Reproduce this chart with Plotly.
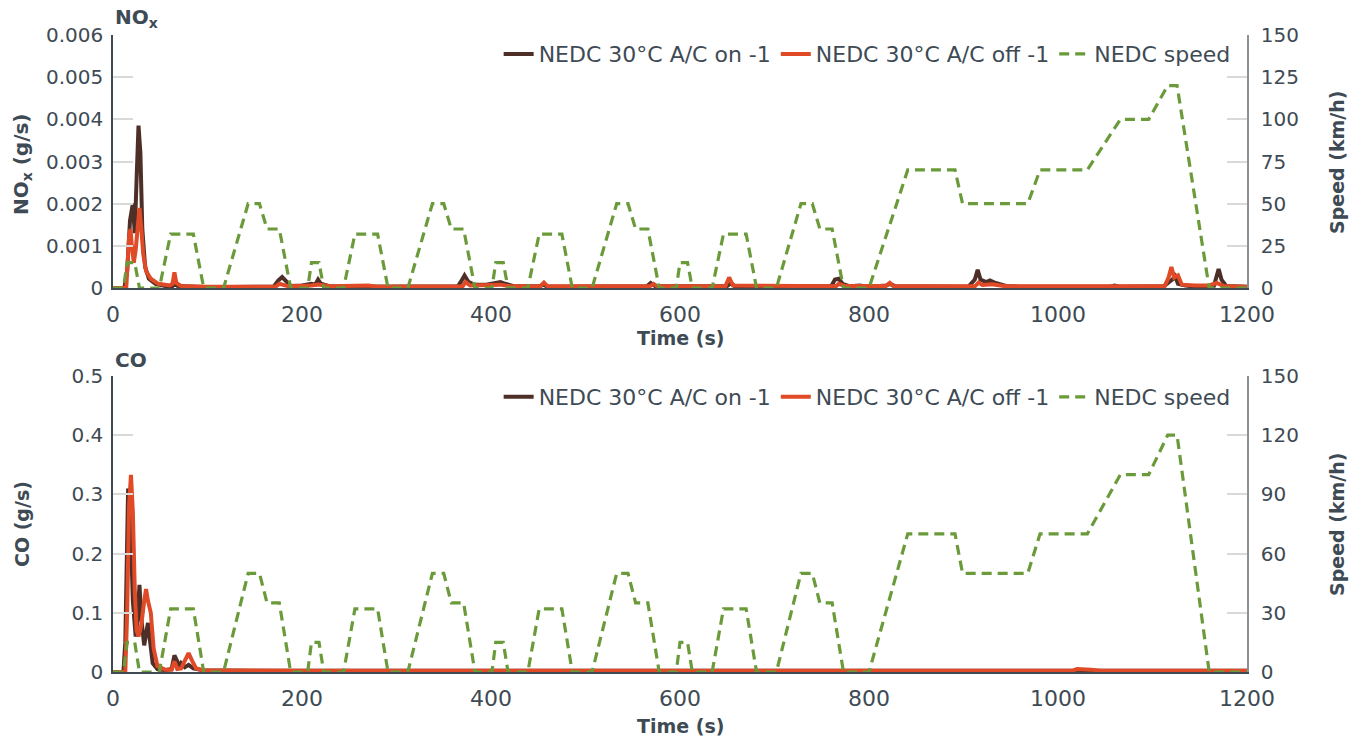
import plotly.graph_objects as go

# ---- NEDC speed trace (breakpoints, s / km/h) ----
speed_t = [0, 11, 15, 23, 28, 49, 61, 85, 96, 117, 143, 155, 163, 176, 188,
           195, 206, 210, 218, 223, 244, 256, 280, 291, 312, 338, 350, 358, 371, 383,
           390, 401, 405, 413, 418, 439, 451, 475, 486, 507, 533, 545, 553, 566, 578,
           585, 596, 600, 608, 613, 634, 646, 670, 681, 702, 728, 740, 748, 761, 773,
           780, 800, 841, 891, 899, 968, 981, 1031, 1066, 1096, 1116, 1126, 1160, 1200]
speed_v = [0, 0, 15, 15, 0, 0, 32, 32, 0, 0, 50, 50, 35, 35, 0,
           0, 0, 15, 15, 0, 0, 32, 32, 0, 0, 50, 50, 35, 35, 0,
           0, 0, 15, 15, 0, 0, 32, 32, 0, 0, 50, 50, 35, 35, 0,
           0, 0, 15, 15, 0, 0, 32, 32, 0, 0, 50, 50, 35, 35, 0,
           0, 0, 70, 70, 50, 50, 70, 70, 100, 100, 120, 120, 0, 0]

# ---- NOx (g/s) ----
nox_on_t = [0, 12, 15, 18, 21, 23, 25, 27, 29, 31, 34, 38, 45, 55, 63, 65, 68, 100,
            170, 175, 179, 183, 188, 200, 210, 214, 217, 220, 228, 240, 365, 369, 372,
            376, 382, 395, 405, 410, 415, 425, 452, 455, 460, 565, 569, 574, 650, 654,
            658, 760, 764, 768, 772, 780, 790, 800, 818, 822, 828, 905, 912, 915, 918,
            924, 928, 934, 945, 960, 1055, 1060, 1065, 1112, 1118, 1121, 1124, 1127,
            1135, 1145, 1165, 1168, 1170, 1173, 1178, 1200]
nox_on_v = [0, 0, 0.0004, 0.0016, 0.002, 0.0013, 0.0026, 0.00385, 0.0032, 0.0014,
            0.0005, 0.00022, 0.0001, 0.00005, 0.00005, 0.00012, 0.00005, 0.00002,
            0.00003, 0.00018, 0.00026, 0.00018, 0.00005, 0.00006, 0.0001, 0.00008,
            0.0002, 0.0001, 0.00005, 0.00003, 0.00004, 0.00018, 0.0003, 0.00015,
            0.00008, 0.00008, 0.00012, 0.00014, 0.0001, 0.00004, 0.00004, 0.00008,
            0.00003, 0.00004, 0.00012, 0.00004, 0.00005, 0.00012, 0.00004, 0.00004,
            0.0002, 0.00022, 0.0001, 0.00004, 0.00006, 0.00003, 0.00006, 0.0001,
            0.00004, 0.00003, 0.0002, 0.00043, 0.0002, 0.00014, 0.00018, 0.00012,
            0.00005, 0.00003, 0.00003, 0.00006, 0.00003, 0.00004, 0.00015, 0.0002,
            0.00028, 0.0001, 0.00006, 0.00003, 0.00005, 0.0003, 0.00045, 0.0002,
            0.00005, 0.00003]

nox_off_t = [0, 14, 17, 18.5, 20, 22, 24, 26, 28, 30, 32, 35, 40, 48, 60, 63, 65, 67,
             72, 100, 172, 176, 180, 186, 210, 217, 230, 270, 280, 370, 373, 378, 410,
             420, 452, 456, 460, 568, 572, 576, 648, 652, 656, 765, 768, 774, 818, 822,
             826, 912, 916, 920, 930, 945, 1113, 1117, 1120, 1123, 1127, 1131, 1145,
             1160, 1168, 1175, 1200]
nox_off_v = [0, 0, 0.0012, 0.0014, 0.001, 0.0006, 0.0009, 0.0015, 0.0019, 0.0014,
             0.0008, 0.0004, 0.00022, 0.0001, 0.00006, 0.0001, 0.00037, 0.00012,
             0.00005, 0.00003, 0.00003, 0.0001, 0.00008, 0.00004, 0.00006, 0.00008,
             0.00004, 0.00006, 0.00003, 0.00004, 0.00014, 0.00006, 0.00008, 0.00004,
             0.00004, 0.00013, 0.00004, 0.00004, 0.0001, 0.00004, 0.00004, 0.00025,
             0.00006, 0.00004, 0.0001, 0.00005, 0.00005, 0.00012, 0.00004, 0.00004,
             0.00013, 0.00007, 0.00009, 0.00004, 0.00005, 0.00025, 0.0005, 0.00025,
             0.0003, 0.00008, 0.00006, 0.00006, 0.00012, 0.00005, 0.00003]

# ---- CO (g/s) ----
co_on_t = [0, 11, 13, 15, 16, 18, 21, 24, 26, 28, 30, 33, 35, 37, 39, 42, 47, 55,
           62, 65, 68, 70, 72, 76, 80, 85, 95, 150, 1200]
co_on_v = [0, 0, 0.05, 0.25, 0.31, 0.28, 0.12, 0.06, 0.09, 0.147, 0.09, 0.045, 0.06,
           0.083, 0.055, 0.015, 0.005, 0.003, 0.005, 0.028, 0.018, 0.01, 0.015, 0.008,
           0.012, 0.006, 0.003, 0.002, 0.002]

co_off_t = [0, 13, 15, 17, 19, 21, 23, 25, 27, 30, 33, 35, 37, 40, 43, 47, 55, 62,
            65, 68, 72, 76, 80, 84, 88, 95, 200, 1015, 1020, 1035, 1045, 1200]
co_off_v = [0, 0, 0.1, 0.28, 0.333, 0.27, 0.14, 0.07, 0.06, 0.08, 0.12, 0.14, 0.12,
            0.10, 0.04, 0.01, 0.004, 0.004, 0.018, 0.005, 0.006, 0.02, 0.032, 0.018,
            0.006, 0.003, 0.002, 0.002, 0.005, 0.004, 0.002, 0.002]

x_ticks = [0, 200, 400, 600, 800, 1000, 1200]
nox_ticks = [0, 0.001, 0.002, 0.003, 0.004, 0.005, 0.006]
nox_labels = ["0", "0.001", "0.002", "0.003", "0.004", "0.005", "0.006"]
co_ticks = [0, 0.1, 0.2, 0.3, 0.4, 0.5]
co_labels = ["0", "0.1", "0.2", "0.3", "0.4", "0.5"]

BROWN = "#4e2f27"
ORANGE = "#e04a26"
GREEN = "#6b9a3a"
INK = "#3e4a54"
FONT = "DejaVu Sans"

fig = go.Figure()

def add_panel(t_on, v_on, t_off, v_off, xa, ya, ya2, legend_name):
    fig.add_trace(go.Scatter(x=t_on, y=v_on, mode="lines", name="NEDC 30°C A/C on -1",
                             line=dict(color=BROWN, width=4), xaxis=xa, yaxis=ya,
                             legend=legend_name))
    fig.add_trace(go.Scatter(x=t_off, y=v_off, mode="lines", name="NEDC 30°C A/C off -1",
                             line=dict(color=ORANGE, width=4), xaxis=xa, yaxis=ya,
                             legend=legend_name))
    fig.add_trace(go.Scatter(x=speed_t, y=speed_v, mode="lines", name="NEDC speed",
                             line=dict(color=GREEN, width=3.2, dash="10px,6px"),
                             xaxis=xa, yaxis=ya2, legend=legend_name))

add_panel(nox_on_t, nox_on_v, nox_off_t, nox_off_v, "x", "y", "y2", "legend")
add_panel(co_on_t, co_on_v, co_off_t, co_off_v, "x2", "y3", "y4", "legend2")

ytickfont = dict(family=FONT, size=20, color=INK)
xtickfont = dict(family=FONT, size=22, color=INK)

def xaxis_cfg(anchor):
    return dict(domain=[0, 1], range=[0, 1200], tickvals=x_ticks, showgrid=False,
                zeroline=False, showline=True, linecolor=INK, linewidth=1.5,
                ticks="", tickfont=xtickfont, anchor=anchor, ticklabelstandoff=6)

def yleft_cfg(domain, rng, vals, labels, anchor):
    return dict(domain=domain, range=rng, tickvals=vals, ticktext=labels, showgrid=False,
                zeroline=False, showline=True, linecolor=INK, linewidth=1.5,
                ticks="inside", ticklen=20, tickwidth=1.5, tickcolor="#d9d9d9",
                tickfont=ytickfont, anchor=anchor, ticklabelstandoff=4)

def yright_cfg(rng, dtick, overlay, anchor):
    return dict(range=rng, dtick=dtick, overlaying=overlay, side="right", showgrid=False,
                zeroline=False, showline=True, linecolor="#8a9096", linewidth=1.5,
                ticks="inside", ticklen=20, tickwidth=1.5, tickcolor="#d9d9d9",
                tickfont=ytickfont, anchor=anchor, ticklabelstandoff=8)

top_dom = [0.6028, 1.0]
bot_dom = [0.0, 0.4647]

legend_font = dict(family=FONT, size=22, color=INK)

fig.update_layout(
    width=1360, height=738,
    margin=dict(l=113, r=113, t=35, b=66),
    paper_bgcolor="white", plot_bgcolor="white",
    font=dict(family=FONT, color=INK),
    xaxis=xaxis_cfg("y"),
    yaxis=yleft_cfg(top_dom, [0, 0.006], nox_ticks, nox_labels, "x"),
    yaxis2=yright_cfg([0, 150], 25, "y", "x"),
    xaxis2=xaxis_cfg("y3"),
    yaxis3=yleft_cfg(bot_dom, [0, 0.5], co_ticks, co_labels, "x2"),
    yaxis4=yright_cfg([0, 150], 30, "y3", "x2"),
    legend=dict(orientation="h", x=0.99, xanchor="right", y=1.003, yanchor="top",
                font=legend_font, bgcolor="rgba(0,0,0,0)", tracegroupgap=0,
                itemwidth=30),
    legend2=dict(orientation="h", x=0.99, xanchor="right", y=0.4647, yanchor="top",
                 font=legend_font, bgcolor="rgba(0,0,0,0)", tracegroupgap=0,
                 itemwidth=30),
)

def ann(text, x, y, angle=0, xanchor="center", yanchor="middle", size=19):
    fig.add_annotation(text=text, x=x, y=y, xref="paper", yref="paper",
                       showarrow=False, textangle=angle,
                       font=dict(family=FONT, size=size, color=INK),
                       xanchor=xanchor, yanchor=yanchor)

# panel titles
ann("<b>NO<sub>x</sub></b>", 0.0, 1.027, xanchor="left", size=20)
ann("<b>CO</b>", 0.0, 0.4898, xanchor="left", size=20)
# x-axis titles
ann("<b>Time (s)</b>", 0.5, (672 - 338) / 637)
ann("<b>Time (s)</b>", 0.5, (672 - 726) / 637)
# left y-axis titles
ann("<b>NO<sub>x</sub> (g/s)</b>", -0.0802, (672 - 164) / 637, angle=-90, size=20)
ann("<b>CO (g/s)</b>", -0.0802, (672 - 524) / 637, angle=-90)
# right y-axis titles
ann("<b>Speed (km/h)</b>", 1.0794, (672 - 162) / 637, angle=-90)
ann("<b>Speed (km/h)</b>", 1.0794, (672 - 524) / 637, angle=-90)

fig.write_html("out.html")
